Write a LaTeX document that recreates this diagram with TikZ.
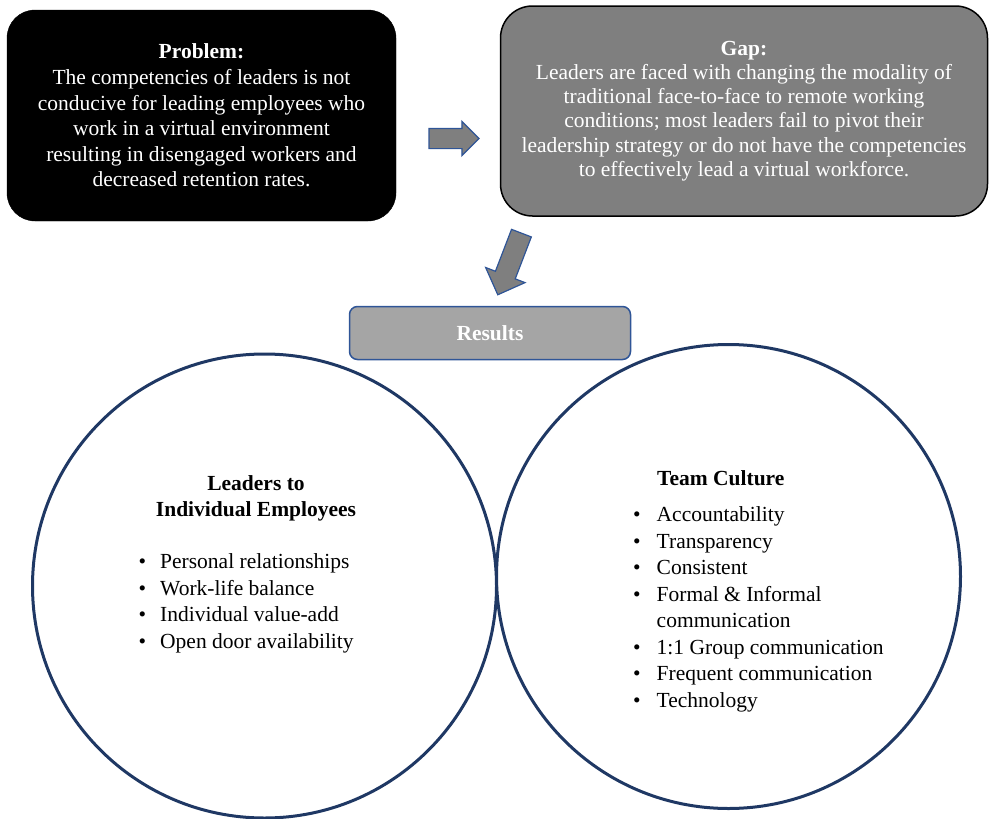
\documentclass[tikz,border=0pt]{standalone}
\usepackage{fontspec}
\setmainfont{Liberation Serif}
\usetikzlibrary{shapes.arrows}
\definecolor{boxgray}{HTML}{7F7F7F}
\definecolor{resgray}{HTML}{A5A5A5}
\definecolor{edgeblue}{HTML}{2F5597}
\definecolor{ringblue}{HTML}{1F3864}
\tikzset{probbox/.style = {draw=black, fill=black, text=white, rounded corners=28pt,
                           minimum width=389pt, minimum height=211pt, align=center,
                           inner sep=0pt, font=\fontsize{21.5}{25.6}\selectfont}}
\tikzset{gapbox/.style = {draw=black, line width=1.5pt, fill=boxgray, text=white, rounded corners=32pt,
                          minimum width=487pt, minimum height=210pt, align=center,
                          inner sep=0pt, font=\fontsize{21.5}{24.2}\selectfont}}
\tikzset{resbox/.style = {draw=edgeblue, line width=1.5pt, fill=resgray, text=white, rounded corners=8pt,
                          minimum width=281pt, minimum height=53pt, inner sep=0pt,
                          font=\fontsize{21.5}{25}\selectfont\bfseries}}
\tikzset{bigarrow/.style = {single arrow, draw=edgeblue, line width=1.2pt, fill=boxgray, inner xsep=0pt}}
\tikzset{ring/.style = {circle, draw=ringblue, line width=3pt, minimum size=464pt, inner sep=0pt}}
\tikzset{ringtext/.style = {inner sep=0pt, font=\fontsize{21.5}{26.5}\selectfont}}

\begin{document}
\begin{tikzpicture}[x=1pt,y=-1pt]
                \useasboundingbox (0,0) rectangle (989,819);

                \node[probbox] (problem) at (201.5,115.5) {\textbf{Problem:}\\The competencies of leaders is not\\conducive for leading employees who\\work in a virtual environment\\resulting in disengaged workers and\\decreased retention rates.};
                \node[gapbox] (gap) at (744,111) {\textbf{Gap:}\\Leaders are faced with changing the modality of\\traditional face-to-face to remote working\\conditions; most leaders fail to pivot their\\leadership strategy or do not have the competencies\\to effectively lead a virtual workforce.};
                \node[resbox] (results) at (490,333) {Results};

                \node[bigarrow, inner ysep=9.5pt, minimum height=50pt, minimum width=33pt, single arrow head extend=7pt] (togap) at (449,138.5) {};
                \node[bigarrow, inner ysep=10pt, minimum height=66pt, minimum width=41pt, single arrow head extend=10.5pt, rotate=249] (toresults) at (511.5,259) {};

                \node[ring] (leaders) at (264.5,586) {};
                \node[ring] (team) at (728.5,576.5) {};

                \node[ringtext, font=\fontsize{21.5}{26.5}\selectfont\bfseries, align=center] (leadershead) at (256,498.5) {Leaders to\\Individual Employees};
                \node[ringtext, anchor=west] (leaderslist) at (138.5,603) {\begin{tabular}{@{}l@{\hspace{14pt}}l@{}}
                  \textbullet & Personal relationships\\
                  \textbullet & Work-life balance\\
                  \textbullet & Individual value-add\\
                  \textbullet & Open door availability
                \end{tabular}};

                \node[ringtext, font=\fontsize{21.5}{26.5}\selectfont\bfseries, anchor=west] (teamhead) at (657,478) {Team Culture};
                \node[ringtext, anchor=west] (teamlist) at (633,609) {\begin{tabular}{@{}l@{\hspace{16pt}}l@{}}
                  \textbullet & Accountability\\
                  \textbullet & Transparency\\
                  \textbullet & Consistent\\
                  \textbullet & Formal \& Informal\\
                              & communication\\
                  \textbullet & 1:1 Group communication\\
                  \textbullet & Frequent communication\\
                  \textbullet & Technology
                \end{tabular}};
            \end{tikzpicture}
\end{document}
